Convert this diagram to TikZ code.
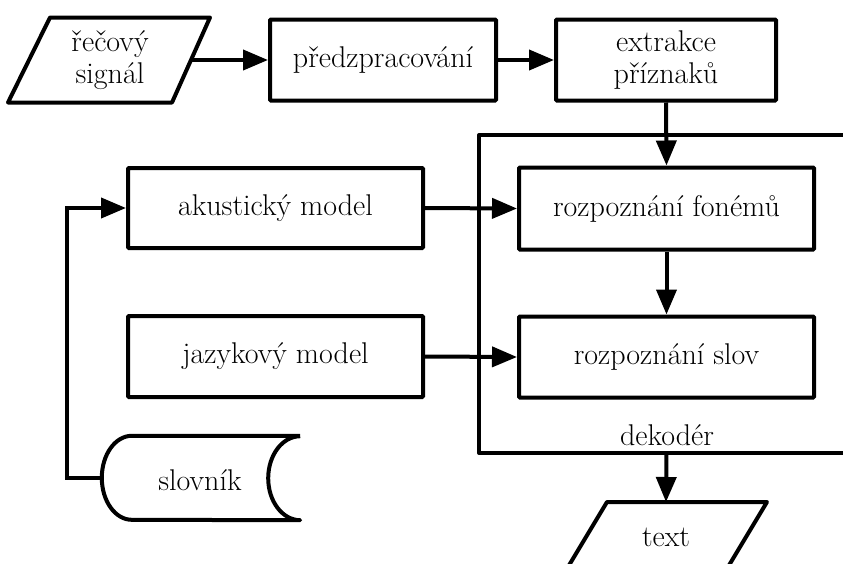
\documentclass[tikz,border=0pt]{standalone}
\usepackage{fontspec}
\usetikzlibrary{arrows.meta}
\begin{document}
\begin{tikzpicture}[x=1pt,y=1pt,
  every node/.style={font=\fontsize{30}{32}\selectfont, align=center, inner sep=0pt},
  proc/.style={draw, line width=4pt, rounded corners=1pt, minimum height=81pt},
  conn/.style={line width=4pt},
  arr/.style={conn, -{Triangle[length=25pt,width=20pt]}},
  outline/.style={line width=4pt, line join=round}
]
\useasboundingbox (0,0) rectangle (843,-563);
\clip (0,0) rectangle (843,-563);

% input: speech signal (parallelogram)
\node (sig) at (110,-60) {řečový\\signál};
\draw[outline, shift={(sig.center)}] (-60,42.5) -- (100,42.5) -- (62,-42.5) -- (-102,-42.5) -- cycle;
\coordinate (sigE) at ([xshift=81pt]sig.center);

% processing chain
\node[proc, minimum width=226pt] (pre) at (383,-60) {předzpracování};
\node[proc, minimum width=220pt] (ext) at (666,-60) {extrakce\\příznaků};

% decoder frame
\draw[outline] (900,-135) -- (479,-135) -- (479,-453) -- (900,-453);
\coordinate (frameS) at (666.5,-453);
\node (dek) at (667,-435) {dekodér};

\node[proc, minimum width=295pt, minimum height=82pt] (fon) at (666.5,-208.5) {rozpoznání fonémů};
\node[proc, minimum width=295pt] (slo) at (666.5,-357) {rozpoznání slov};

% models
\node[proc, minimum width=295pt, minimum height=80pt] (aku) at (275.5,-208) {akustický model};
\node[proc, minimum width=295pt] (jaz) at (275.5,-356.5) {jazykový model};

% dictionary (stored data)
\node[minimum width=198pt, minimum height=84pt] (dict) at (201,-478) {};
\node (dictlbl) at (200,-480) {slovník};
\draw[outline] (dict.north east) -- ([xshift=30pt]dict.north west)
  arc[start angle=90, end angle=270, x radius=30pt, y radius=42pt]
  -- (dict.south east)
  arc[start angle=270, end angle=90, x radius=32pt, y radius=42pt];

% output text (parallelogram)
\node (txt) at (666,-537) {text};
\draw[outline, shift={(txt.center)}] (-59,35) -- (101,35) -- (59,-35) -- (-101,-35) -- cycle;
\coordinate (txtN) at ([yshift=35pt]txt.center);

% connectors
\draw[arr] (sigE) -- (pre);
\draw[arr] (pre) -- (ext);
\draw[arr] (ext.south) -- (fon.north);
\draw[arr] (fon.south) -- (slo.north);
\draw[arr] (aku.east) -- (fon.west);
\draw[arr] (jaz.east) -- (slo.west);
\draw[arr] (dict.west) -- ++(-35,0) |- (aku.west);
\draw[arr] (frameS) -- (txtN);
\end{tikzpicture}
\end{document}
